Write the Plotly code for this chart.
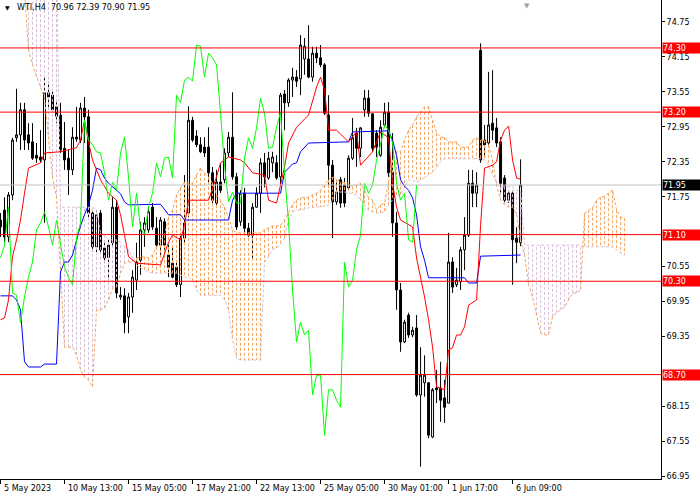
import plotly.graph_objects as go

# WTI,H4 candles; bar 0 is the bar on the left edge of the chart (5 May 2023)
opens = [
    71.35, 71.52, 71.06, 71.78, 72.76, 72.81, 73.24, 72.81, 72.69, 72.46,
    72.43, 72.38, 73.53, 73.49, 73.29, 73.15, 72.58, 72.41, 72.21, 72.77,
    72.72, 73.27, 73.12, 71.47, 70.89, 71.47, 70.87, 70.71, 70.96, 71.57,
    70.03, 70.05, 69.69, 70.03, 70.32, 70.66, 71.18, 71.18, 71.57, 71.21,
    70.92, 71.32, 70.75, 70.61, 70.54, 70.24, 71.04, 71.47, 73.06, 72.79,
    72.64, 72.60, 72.60, 72.16, 71.64, 72.00, 72.04, 72.50, 72.77, 72.09,
    71.32, 71.81, 71.21, 71.09, 71.57, 71.81, 72.33, 72.07, 72.33, 72.33,
    72.09, 73.51, 73.36, 73.75, 73.80, 73.77, 74.11, 74.11, 73.80, 74.21,
    74.13, 74.01, 73.15, 72.29, 71.66, 72.04, 71.95, 71.90, 72.41, 72.84,
    72.58, 73.24, 73.44, 73.17, 72.84, 72.46, 72.98, 73.20, 72.17, 71.30,
    70.15, 69.26, 69.72, 69.38, 69.50, 68.35, 68.56, 68.56, 67.63, 68.47,
    68.47, 68.30, 68.21, 70.63, 70.24, 70.29, 70.84, 71.09, 71.98, 71.81,
    74.26, 72.72, 72.67, 73.01, 72.93, 72.69, 72.07, 71.69, 71.81, 71.04,
    70.96,
]
highs = [
    71.47, 71.74, 71.83, 72.76, 73.60, 73.36, 73.36, 73.01, 73.01, 72.67,
    72.89, 73.82, 73.72, 73.58, 73.37, 73.36, 73.03, 72.55, 72.94, 73.29,
    73.36, 73.46, 73.24, 71.52, 71.52, 71.52, 70.97, 71.01, 71.74, 71.69,
    70.20, 70.18, 70.10, 70.49, 70.96, 71.32, 71.40, 71.57, 71.64, 71.40,
    71.40, 71.38, 70.96, 70.89, 70.66, 71.13, 72.12, 73.30, 73.12, 72.89,
    72.77, 72.77, 72.94, 72.26, 72.21, 72.33, 72.58, 72.86, 73.54, 72.16,
    71.86, 71.90, 71.30, 71.64, 71.91, 72.41, 72.50, 72.52, 72.52, 72.46,
    73.53, 73.58, 73.78, 73.96, 73.92, 74.52, 74.47, 74.69, 74.32, 74.32,
    74.35, 74.04, 73.49, 72.38, 72.04, 72.09, 72.07, 72.46, 73.10, 72.93,
    72.94, 73.58, 73.58, 73.18, 72.89, 73.06, 73.36, 73.37, 72.84, 71.49,
    70.27, 69.64, 69.76, 69.52, 69.72, 69.17, 69.03, 68.57, 68.47, 68.78,
    68.92, 68.61, 71.13, 70.71, 70.53, 70.89, 71.40, 72.21, 72.21, 72.17,
    74.38, 72.98, 73.89, 73.92, 73.10, 72.77, 72.12, 71.86, 71.86, 71.23,
    72.39,
]
lows = [
    71.06, 70.97, 70.97, 71.69, 72.69, 72.55, 72.55, 72.55, 72.38, 72.33,
    72.33, 71.30, 73.24, 73.20, 73.01, 72.50, 72.21, 71.78, 72.12, 72.69,
    72.67, 72.67, 71.40, 70.80, 70.78, 70.78, 70.61, 70.32, 70.89, 70.01,
    69.98, 69.41, 69.41, 69.76, 70.15, 70.41, 70.89, 71.13, 71.18, 70.84,
    70.71, 70.84, 70.37, 70.35, 70.20, 70.03, 70.96, 71.40, 72.69, 72.60,
    72.50, 72.43, 71.98, 71.64, 71.61, 71.81, 71.98, 72.43, 72.04, 71.18,
    71.25, 71.14, 71.06, 70.66, 71.56, 71.47, 71.91, 72.04, 72.17, 72.04,
    71.95, 72.89, 73.29, 73.46, 73.63, 73.49, 73.84, 73.78, 73.72, 74.04,
    73.97, 73.15, 71.91, 71.04, 71.61, 71.56, 71.57, 71.86, 72.38, 72.26,
    72.43, 73.12, 73.12, 72.52, 72.43, 72.43, 72.94, 72.09, 71.06, 69.81,
    69.09, 69.24, 69.33, 69.34, 68.32, 67.12, 68.32, 67.61, 67.61, 68.21,
    67.89, 67.87, 68.21, 70.10, 70.20, 70.15, 70.49, 71.06, 71.57, 71.57,
    72.33, 72.41, 72.64, 72.72, 72.60, 71.81, 71.64, 71.64, 70.24, 70.61,
    70.90,
]
closes = [
    71.23, 71.06, 71.78, 72.72, 72.81, 73.24, 72.72, 72.67, 72.41, 72.41,
    72.38, 73.53, 73.46, 73.24, 73.13, 72.55, 72.38, 72.21, 72.77, 72.74,
    73.27, 73.12, 71.47, 70.89, 71.44, 70.84, 70.70, 70.92, 71.57, 70.10,
    70.06, 69.59, 70.03, 70.37, 70.63, 71.18, 71.30, 71.49, 71.23, 70.92,
    71.35, 70.92, 70.54, 70.37, 70.24, 71.04, 71.30, 73.06, 72.72, 72.64,
    72.52, 72.50, 72.16, 71.69, 72.00, 71.86, 72.50, 72.77, 72.09, 71.23,
    71.81, 71.21, 71.09, 71.57, 71.81, 72.33, 72.09, 72.41, 72.43, 72.07,
    73.49, 73.36, 73.75, 73.80, 73.73, 74.35, 74.33, 73.80, 74.21, 74.13,
    74.01, 73.18, 72.29, 71.66, 71.83, 71.64, 71.64, 72.41, 72.76, 72.58,
    72.93, 73.44, 73.18, 72.58, 72.60, 72.94, 73.20, 72.16, 71.30, 70.15,
    69.26, 69.60, 69.38, 69.46, 68.35, 68.69, 68.69, 67.66, 68.44, 68.44,
    68.26, 68.14, 70.63, 70.20, 70.32, 70.84, 71.09, 71.98, 71.81, 71.95,
    72.38, 72.64, 72.98, 72.89, 72.67, 71.98, 71.69, 71.81, 71.01, 70.97,
    71.95,
]

# Ichimoku lines (bar index, price)
tenkan_bars = [
    0, 1, 2, 3, 4, 5, 6, 7, 10, 11, 15, 19, 20, 21, 22, 23, 25, 27, 29, 30,
    31, 32, 34, 40, 42, 43, 45, 46, 47, 52, 54, 55, 57, 60, 61, 63, 66, 67, 69, 71,
    72, 74, 77, 79, 80, 81, 82, 84, 87, 89, 90, 93, 95, 97, 98, 99, 100, 103, 104, 105,
    106, 107, 108, 109, 111, 112, 113, 114, 115, 116, 117, 119, 120, 121, 123, 124, 125, 126, 127, 128,
    129, 130,
]
tenkan = [
    69.64, 69.67, 69.98, 70.72, 71.01, 71.35, 71.81, 72.24, 72.33, 72.50,
    72.52, 72.59, 72.72, 73.06, 72.69, 72.38, 72.04, 71.81, 71.69, 71.44,
    71.09, 70.72, 70.61, 70.58, 70.97, 71.09, 71.01, 71.26, 71.69, 71.69,
    72.09, 72.33, 72.43, 72.38, 72.33, 72.16, 72.12, 71.69, 71.64, 72.26,
    72.67, 72.94, 73.15, 73.63, 73.80, 73.58, 72.89, 72.89, 72.69, 72.86,
    72.29, 72.52, 72.86, 72.76, 71.98, 71.57, 71.35, 71.23, 70.70, 70.37,
    70.03, 69.64, 69.17, 68.49, 68.44, 69.12, 69.16, 69.38, 69.38, 69.52,
    69.89, 69.98, 71.26, 72.24, 72.29, 72.35, 72.72, 72.89, 72.96, 72.38,
    72.07, 72.05,
]
kijun_bars = [
    0, 3, 4, 5, 6, 7, 10, 11, 14, 15, 16, 17, 18, 19, 20, 21, 22, 23, 24, 25,
    26, 27, 28, 29, 30, 31, 32, 40, 41, 42, 45, 46, 57, 58, 59, 70, 71, 73, 74, 75,
    77, 87, 88, 97, 98, 99, 100, 101, 102, 103, 104, 105, 106, 107, 116, 117, 119, 120, 130,
]
kijun = [
    70.05, 70.05, 69.98, 69.81, 68.92, 68.83, 68.83, 68.88, 68.88, 70.46,
    70.63, 70.63, 70.75, 71.01, 71.25, 71.44, 71.61, 71.86, 72.24, 72.21,
    72.07, 71.98, 71.92, 71.85, 71.80, 71.66, 71.61, 71.62, 71.52, 71.44,
    71.44, 71.35, 71.35, 71.69, 71.81, 71.81, 72.17, 72.31, 72.33, 72.52,
    72.67, 72.69, 72.86, 72.88, 72.72, 72.46, 72.04, 71.93, 71.86, 71.73,
    71.44, 70.89, 70.66, 70.36, 70.36, 70.27, 70.27, 70.73, 70.75,
]
# senkou spans, one value per bar, running 26 bars past the last candle
span_a = [
    75.46, 75.46, 75.46, 75.46, 75.46, 75.46, 75.29, 74.26, 74.01, 73.80,
    73.63, 73.44, 72.81, 72.09, 71.74, 70.49, 69.17, 69.17, 69.17, 69.04,
    68.78, 68.66, 68.61, 68.49, 69.81, 69.81, 69.84, 69.98, 70.18, 70.20,
    70.44, 70.61, 70.63, 70.63, 70.70, 70.72, 70.72, 70.70, 70.75, 70.89,
    71.01, 71.09, 71.40, 71.52, 71.78, 71.90, 72.00, 71.98, 71.98, 72.12,
    72.24, 72.16, 72.09, 71.98, 71.78, 71.69, 71.57, 71.40, 71.18, 71.13,
    71.13, 71.13, 71.13, 71.13, 71.13, 71.13, 71.18, 71.21, 71.25, 71.25,
    71.26, 71.35, 71.47, 71.61, 71.69, 71.73, 71.74, 71.74, 71.78, 71.81,
    71.86, 71.95, 72.04, 72.09, 72.04, 72.00, 72.00, 71.98, 71.92, 71.95,
    71.98, 71.86, 71.74, 71.69, 71.52, 71.61, 71.64, 72.00, 72.38, 72.52,
    72.52, 72.72, 72.89, 72.98, 73.12, 73.20, 73.29, 73.29, 73.06, 72.84,
    72.77, 72.77, 72.69, 72.69, 72.69, 72.60, 72.60, 72.60, 72.72, 72.76,
    72.72, 72.72, 72.64, 72.38, 71.95, 71.69, 71.61, 71.57, 71.57, 71.44,
    71.01, 70.75, 70.24, 70.03, 69.72, 69.41, 69.38, 69.38, 69.69, 69.76,
    69.81, 69.86, 69.98, 70.10, 70.10, 70.15, 71.47, 71.52, 71.56, 71.69,
    71.74, 71.76, 71.81, 71.86, 71.52, 71.40, 71.38,
]
span_b = [
    75.81, 75.81, 75.81, 75.81, 75.81, 75.81, 75.81, 75.81, 75.81, 75.81,
    75.81, 75.81, 75.81, 75.81, 75.81, 71.57, 71.57, 71.57, 71.57, 71.57,
    71.57, 71.57, 71.57, 71.57, 71.52, 71.13, 71.09, 71.01, 71.01, 71.01,
    70.96, 70.89, 70.84, 70.70, 70.58, 70.53, 70.49, 70.46, 70.44, 70.44,
    70.44, 70.44, 70.44, 70.44, 70.44, 70.41, 70.37, 70.36, 70.32, 70.15,
    70.06, 70.06, 70.06, 70.06, 70.06, 70.06, 69.98, 69.81, 69.29, 68.98,
    68.95, 68.95, 68.95, 68.95, 68.95, 68.95, 70.63, 70.72, 70.84, 70.87,
    70.92, 71.04, 71.35, 71.49, 71.52, 71.52, 71.54, 71.56, 71.56, 71.57,
    71.57, 71.59, 71.61, 71.69, 71.83, 71.83, 71.83, 71.81, 71.81, 71.78,
    71.69, 71.61, 71.52, 71.49, 71.47, 71.47, 71.49, 71.61, 71.69, 71.78,
    71.78, 71.90, 72.04, 72.04, 72.00, 72.04, 72.07, 72.12, 72.17, 72.24,
    72.35, 72.40, 72.40, 72.40, 72.40, 72.40, 72.40, 72.40, 72.40, 72.40,
    72.40, 72.38, 72.29, 72.12, 72.00, 71.92, 71.92, 71.92, 71.92, 71.86,
    71.83, 70.92, 70.92, 70.92, 70.92, 70.92, 70.92, 70.92, 70.92, 70.92,
    70.92, 70.92, 70.92, 70.92, 70.92, 70.92, 70.89, 70.89, 70.89, 70.89,
    70.89, 70.89, 70.89, 70.89, 70.84, 70.78, 70.75,
]
chikou_shift = 26

# horizontal levels drawn on the chart, plus the bid line
levels = [74.30, 73.20, 71.10, 70.30, 68.70]
bid_price = 71.95

price_ticks = [74.75, 74.15, 73.55, 72.95, 72.35, 71.75, 70.55, 69.95, 69.35, 68.15, 67.55, 66.95]
time_tick_bars = [0, 16, 32, 48, 64, 80, 96, 112, 128]
time_tick_labels = [
    "5 May 2023", "10 May 13:00", "15 May 05:00", "17 May 21:00", "22 May 13:00",
    "25 May 05:00", "30 May 01:00", "1 Jun 17:00", "6 Jun 09:00",
]
header = "WTI,H4  70.96 72.39 70.90 71.95"

FONT = "DejaVu Sans"
DOT = "3px,2px"


def cloud_hatch(a, b, a_on_top):
    # one dotted vertical stroke per bar between the two spans
    xs, ys = [], []
    for i, (va, vb) in enumerate(zip(a, b)):
        if (va >= vb) == a_on_top:
            xs += [i, i, None]
            ys += [va, vb, None]
    return xs, ys


def main() -> None:
    bars = list(range(len(closes)))
    fig = go.Figure()

    for a_on_top, color in ((True, "#F4A460"), (False, "#D8BFD8")):
        hx, hy = cloud_hatch(span_a, span_b, a_on_top)
        fig.add_trace(go.Scatter(x=hx, y=hy, mode="lines", connectgaps=False, hoverinfo="skip",
                                 line=dict(color=color, width=1, dash=DOT)))

    span_x = list(range(len(span_a)))
    fig.add_trace(go.Scatter(x=span_x, y=span_b, mode="lines", hoverinfo="skip",
                             line=dict(color="#D8BFD8", width=1, dash=DOT)))
    fig.add_trace(go.Scatter(x=span_x, y=span_a, mode="lines", hoverinfo="skip",
                             line=dict(color="#F4A460", width=1, dash=DOT)))

    fig.add_trace(go.Scatter(x=kijun_bars, y=kijun, mode="lines", line=dict(color="#0000FF", width=1)))
    fig.add_trace(go.Scatter(x=tenkan_bars, y=tenkan, mode="lines", line=dict(color="#FF0000", width=1)))
    fig.add_trace(go.Scatter(x=bars[:-chikou_shift], y=closes[chikou_shift:], mode="lines",
                             line=dict(color="#00FF00", width=1)))

    fig.add_trace(go.Candlestick(
        x=bars, open=opens, high=highs, low=lows, close=closes, whiskerwidth=0, hoverinfo="skip",
        increasing=dict(line=dict(color="black", width=1), fillcolor="white"),
        decreasing=dict(line=dict(color="black", width=1), fillcolor="black"),
    ))

    for lvl in levels:
        fig.add_shape(type="line", xref="paper", x0=0, x1=1, y0=lvl, y1=lvl, line=dict(color="#FF0000", width=1))
        fig.add_annotation(xref="paper", x=1, y=lvl, xanchor="left", text=f"{lvl:.2f}", showarrow=False,
                           bgcolor="#FF0000", font=dict(color="white", size=8), width=37, height=10,
                           align="left", borderpad=0, xshift=1)
    fig.add_shape(type="line", xref="paper", x0=0, x1=1, y0=bid_price, y1=bid_price,
                  line=dict(color="#C0C0C0", width=1))
    fig.add_annotation(xref="paper", x=1, y=bid_price, xanchor="left", text=f"{bid_price:.2f}", showarrow=False,
                       bgcolor="black", font=dict(color="white", size=8), width=37, height=10,
                       align="left", borderpad=0, xshift=1)

    for pos, label in zip(time_tick_bars, time_tick_labels):
        fig.add_annotation(x=pos, yref="paper", y=0, xanchor="left", yanchor="top", text=label,
                           showarrow=False, xshift=1, yshift=-3, font=dict(size=8))

    # symbol header and the chart-shift marker at the top
    fig.add_annotation(xref="paper", x=0.004, yref="paper", y=1, xanchor="left", yanchor="top", text="▼",
                       showarrow=False, yshift=-2, font=dict(size=6, color="black"))
    fig.add_annotation(xref="paper", x=0.022, yref="paper", y=1, xanchor="left", yanchor="top", text=header,
                       showarrow=False, yshift=-1, font=dict(size=8, color="black"))
    fig.add_annotation(x=131.5, yref="paper", y=1, yanchor="top", text="▼", showarrow=False,
                       font=dict(size=7, color="#A0A0A0"))

    fig.update_layout(
        width=700, height=500,
        margin=dict(l=0, r=39, t=0, b=21, autoexpand=False),
        paper_bgcolor="white", plot_bgcolor="white",
        showlegend=False,
        font=dict(family=FONT, size=8, color="black"),
        xaxis=dict(range=[-0.125, 165.1], showgrid=False, zeroline=False, showline=True,
                   linecolor="black", linewidth=1, tickvals=time_tick_bars, ticks="outside",
                   ticklen=4, tickcolor="black", showticklabels=False, rangeslider=dict(visible=False)),
        yaxis=dict(range=[66.91, 75.122], side="right", showgrid=False, zeroline=False, showline=True,
                   linecolor="black", linewidth=1, tickvals=price_ticks, tickformat=".2f",
                   ticks="outside", ticklen=3, tickcolor="black"),
    )

    # the page keeps the browser's default 8px body margin unless it is cleared
    fig.write_html("out.html", config={"displayModeBar": False},
                   post_script="document.body.style.margin='0';")


if __name__ == "__main__":
    main()
